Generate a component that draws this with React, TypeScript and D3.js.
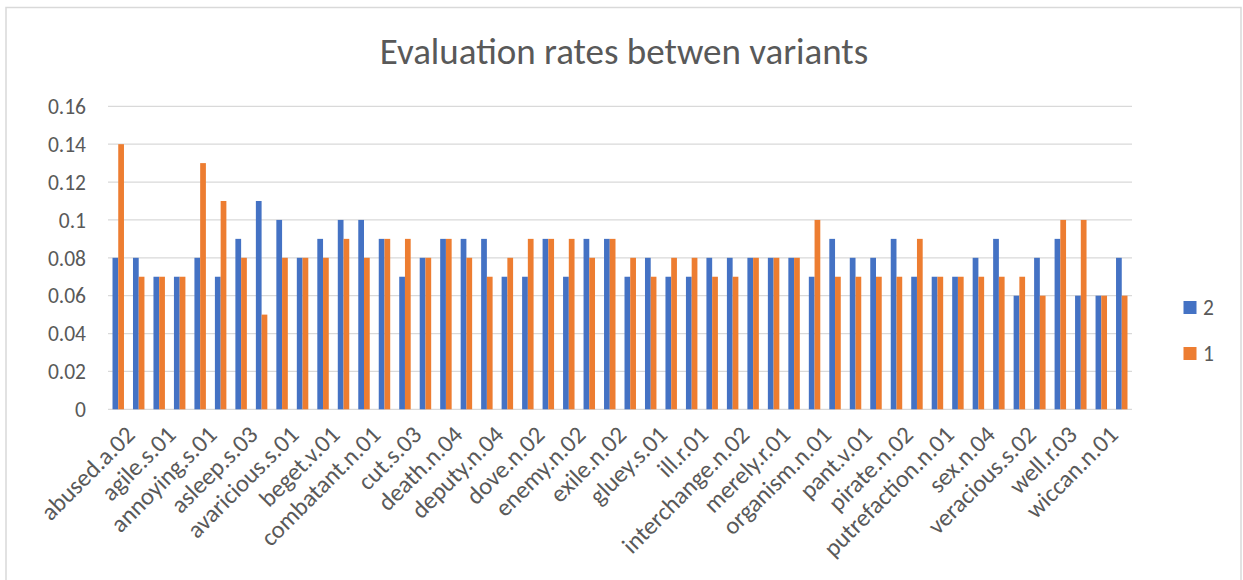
import React, { useEffect, useRef } from "react";
import * as d3 from "d3";

// Category labels: only every other category label is displayed in the source chart;
// the hidden ones are unreadable, so they are left blank.
const shownLabels = [
  "abused.a.02", "agile.s.01", "annoying.s.01", "asleep.s.03", "avaricious.s.01",
  "beget.v.01", "combatant.n.01", "cut.s.03", "death.n.04", "deputy.n.04",
  "dove.n.02", "enemy.n.02", "exile.n.02", "gluey.s.01", "ill.r.01",
  "interchange.n.02", "merely.r.01", "organism.n.01", "pant.v.01", "pirate.n.02",
  "putrefaction.n.01", "sex.n.04", "veracious.s.02", "well.r.03", "wiccan.n.01",
];

const series2 = [
  0.08, 0.08, 0.07, 0.07, 0.08, 0.07, 0.09, 0.11, 0.10, 0.08,
  0.09, 0.10, 0.10, 0.09, 0.07, 0.08, 0.09, 0.09, 0.09, 0.07,
  0.07, 0.09, 0.07, 0.09, 0.09, 0.07, 0.08, 0.07, 0.07, 0.08,
  0.08, 0.08, 0.08, 0.08, 0.07, 0.09, 0.08, 0.08, 0.09, 0.07,
  0.07, 0.07, 0.08, 0.09, 0.06, 0.08, 0.09, 0.06, 0.06, 0.08,
];

const series1 = [
  0.14, 0.07, 0.07, 0.07, 0.13, 0.11, 0.08, 0.05, 0.08, 0.08,
  0.08, 0.09, 0.08, 0.09, 0.09, 0.08, 0.09, 0.08, 0.07, 0.08,
  0.09, 0.09, 0.09, 0.08, 0.09, 0.08, 0.07, 0.08, 0.08, 0.07,
  0.07, 0.08, 0.08, 0.08, 0.10, 0.07, 0.07, 0.07, 0.07, 0.09,
  0.07, 0.07, 0.07, 0.07, 0.07, 0.06, 0.10, 0.10, 0.06, 0.06,
];

const seriesNames = ["2", "1"];
const seriesColors = ["#4472C4", "#ED7D31"];
const yTicks = [0, 0.02, 0.04, 0.06, 0.08, 0.1, 0.12, 0.14, 0.16];
const title = "Evaluation rates betwen variants";

const W = 1243;
const H = 580;
const FONT = "Carlito, Lato, 'Open Sans', sans-serif";
const TEXT = "#595959";
const GRID = "#d9d9d9";

export default function App() {
  const ref = useRef<SVGSVGElement | null>(null);

  useEffect(() => {
    const svg = d3.select(ref.current);
    svg.selectAll("*").remove();

    const n = series2.length;
    const idx = d3.range(n);
    const categoryLabels = idx.map((i) => (i % 2 === 0 ? shownLabels[i / 2] : ""));

    const left = 108, right = 1132, top = 106.3, bottom = 409.3;

    const x = d3.scaleBand<number>().domain(idx).range([left, right]).paddingInner(0.44).paddingOuter(0.22);
    const xs = d3.scaleBand<number>().domain([0, 1]).range([0, x.bandwidth()]);
    const y = d3.scaleLinear().domain([0, 0.16]).range([bottom, top]);

    // outer chart border
    svg.append("rect")
      .attr("x", 6).attr("y", 7.5).attr("width", 1235).attr("height", 600)
      .attr("fill", "#fff").attr("stroke", GRID).attr("stroke-width", 1.5);

    // title
    svg.append("text")
      .attr("x", 624).attr("y", 64)
      .attr("text-anchor", "middle")
      .attr("font-family", FONT).attr("font-size", 37).attr("font-weight", 300)
      .attr("fill", TEXT)
      .text(title);

    // gridlines
    svg.append("g").selectAll("line").data(yTicks).join("line")
      .attr("x1", left).attr("x2", right)
      .attr("y1", (d) => y(d)).attr("y2", (d) => y(d))
      .attr("stroke", GRID).attr("stroke-width", 1.3);

    // y tick labels
    svg.append("g").selectAll("text").data(yTicks).join("text")
      .attr("x", 86).attr("y", (d) => y(d))
      .attr("dy", "0.36em")
      .attr("text-anchor", "end")
      .attr("font-family", FONT).attr("font-size", 21.5)
      .attr("fill", TEXT)
      .text((d) => d3.format("~g")(d));

    // bars
    const all = [series2, series1];
    all.forEach((vals, s) => {
      svg.append("g").selectAll("rect").data(vals).join("rect")
        .attr("x", (_d, i) => (x(i) as number) + (xs(s) as number))
        .attr("y", (d) => y(d))
        .attr("width", xs.bandwidth())
        .attr("height", (d) => y(0) - y(d))
        .attr("fill", seriesColors[s]);
    });

    // x labels
    svg.append("g").selectAll("text").data(idx.filter((i) => categoryLabels[i] !== "")).join("text")
      .attr("transform", (i) => {
        const cx = (x(i) as number) + x.bandwidth() / 2;
        return `translate(${cx + 6},${424}) rotate(-45)`;
      })
      .attr("text-anchor", "end")
      .attr("dy", "0.7em")
      .attr("font-family", FONT).attr("font-size", 24.5)
      .attr("fill", TEXT)
      .text((i) => categoryLabels[i]);

    // legend
    const lg = svg.append("g");
    seriesNames.forEach((name, s) => {
      const cy = 307.5 + s * 46;
      lg.append("rect")
        .attr("x", 1183.5).attr("y", cy - 6.5).attr("width", 13).attr("height", 13)
        .attr("fill", seriesColors[s]);
      lg.append("text")
        .attr("x", 1203).attr("y", cy).attr("dy", "0.36em")
        .attr("font-family", FONT).attr("font-size", 21.5)
        .attr("fill", TEXT)
        .text(name);
    });
  }, []);

  return (
    <div style={{ position: "absolute", left: 0, top: 0 }}>
      <svg ref={ref} width={W} height={H} style={{ display: "block" }} />
    </div>
  );
}
